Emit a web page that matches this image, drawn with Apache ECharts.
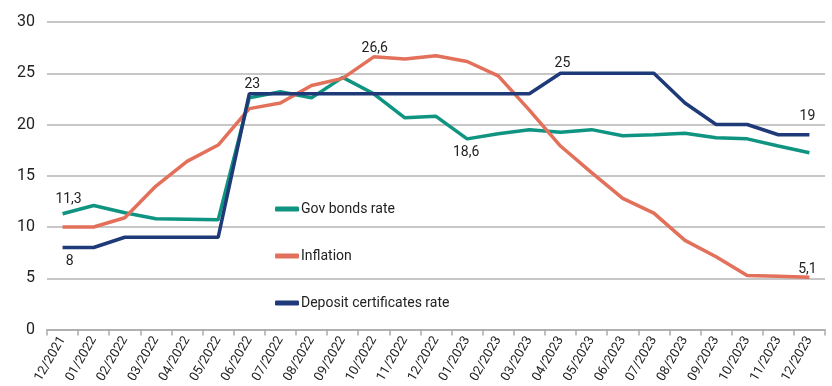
<!DOCTYPE html>
<html><head><meta charset="utf-8">
<script src="https://cdn.jsdelivr.net/npm/echarts@6/dist/echarts.min.js"></script>
<style>html,body{margin:0;padding:0;background:#fff}#c{width:832px;height:386px}</style>
</head><body><div id="c"></div>
<script>
const categories = ['12/2021','01/2022','02/2022','03/2022','04/2022','05/2022','06/2022','07/2022','08/2022','09/2022','10/2022','11/2022','12/2022','01/2023','02/2023','03/2023','04/2023','05/2023','06/2023','07/2023','08/2023','09/2023','10/2023','11/2023','12/2023'];
const govBonds = [11.3,12.1,11.4,10.8,10.75,10.7,22.6,23.2,22.6,24.6,23.0,20.65,20.8,18.6,19.1,19.5,19.25,19.5,18.9,19.0,19.15,18.7,18.6,17.9,17.25];
const inflation = [10.0,10.0,10.9,14.0,16.4,18.0,21.55,22.1,23.8,24.5,26.6,26.4,26.7,26.15,24.75,21.4,17.9,15.3,12.8,11.35,8.7,7.1,5.27,5.2,5.1];
const deposit = [8,8,9,9,9,9,23,23,23,23,23,23,23,23,23,23,25,25,25,25,22.1,20,20,19,19];
const yTicks = {min:0, max:30, interval:5};
// labelled points: [index, position, distance, dx]
const govLabels = [[0,'top',7,6],[13,'bottom',7,-1]];
const inflLabels = [[10,'top',1,1],[24,'top',1,-2]];
const depLabels = [[0,'bottom',7,7],[6,'top',2,3],[16,'top',3,2],[24,'top',11,-2]];

const FONT = 'Roboto';
function withLabels(arr, labels){
  return arr.map((v,i)=>{
    const l = labels.find(x=>x[0]===i);
    if(!l) return v;
    return {value:v, label:{show:true, position:l[1], distance:l[2], offset:[l[3],0],
      formatter:p=>String(p.value).replace('.',','), color:'#222', fontSize:14, fontFamily:FONT}};
  });
}
function series(name, arr, labels, color){
  return {name, type:'line', data:withLabels(arr,labels), symbol:'circle', symbolSize:0, showSymbol:true,
    lineStyle:{width:3.5,color}, itemStyle:{color}, label:{show:false}};
}
const chart = echarts.init(document.getElementById('c'));
chart.setOption({
  animation:false,
  grid:{left:47,right:7,top:22,bottom:55,containLabel:false},
  legend:{
    orient:'vertical', left:270, top:197, itemGap:33, itemWidth:24, itemHeight:5,
    icon:'roundRect', itemStyle:{},
    textStyle:{fontFamily:FONT,fontSize:14,color:'#222',padding:[0,0,0,-3]},
    data:['Gov bonds rate','Inflation','Deposit certificates rate']
  },
  xAxis:{type:'category',data:categories,boundaryGap:true,
    axisLine:{lineStyle:{color:'#aaa',width:1.5}},
    axisTick:{show:true,length:6,lineStyle:{color:'#aaa',width:1.5}},
    axisLabel:{rotate:60,fontFamily:FONT,fontSize:13,color:'#222',margin:8,interval:0}
  },
  yAxis:{type:'value',min:yTicks.min,max:yTicks.max,interval:yTicks.interval,
    axisLine:{show:false},axisTick:{show:false},
    axisLabel:{fontFamily:FONT,fontSize:16,color:'#222',margin:12},
    splitLine:{lineStyle:{color:'#b5b5b5',width:1.5}}
  },
  series:[
    series('Gov bonds rate', govBonds, govLabels, '#0e9480'),
    series('Inflation', inflation, inflLabels, '#e2705a'),
    series('Deposit certificates rate', deposit, depLabels, '#1f3a78')
  ]
});
</script></body></html>
